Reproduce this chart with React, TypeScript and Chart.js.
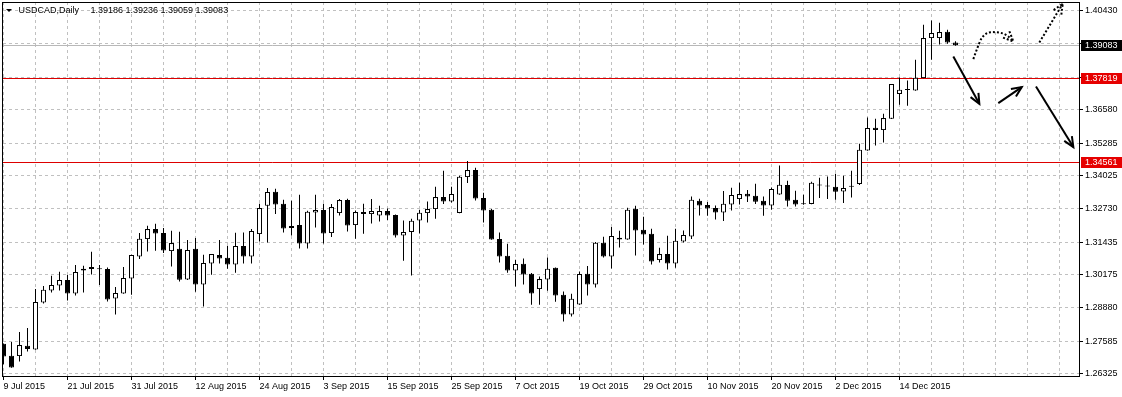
import React, { useEffect, useRef } from 'react';
import { Chart, registerables } from 'chart.js';

Chart.register(...registerables);

const FONT = "'Liberation Sans', Arial, sans-serif";

// ---- data -----------------------------------------------------------------
const symbolTitle = 'USDCAD,Daily';
const lastQuote = '1.39186 1.39236 1.39059 1.39083';

const dateLabels = [
  '9 Jul 2015', '21 Jul 2015', '31 Jul 2015', '12 Aug 2015', '24 Aug 2015',
  '3 Sep 2015', '15 Sep 2015', '25 Sep 2015', '7 Oct 2015', '19 Oct 2015',
  '29 Oct 2015', '10 Nov 2015', '20 Nov 2015', '2 Dec 2015', '14 Dec 2015',
];
const dateIdx = [0, 8, 16, 24, 32, 40, 48, 56, 64, 72, 80, 88, 96, 104, 112];

const priceTicks = [
  1.4043, 1.39135, 1.3784, 1.3658, 1.35285, 1.34025, 1.3273, 1.31435,
  1.30175, 1.2888, 1.27585, 1.26325,
];

const opens = [
  1.2749, 1.27024, 1.27012, 1.27412, 1.27268, 1.29093, 1.29559, 1.29753, 1.29963, 1.29443,
  1.30402, 1.3039, 1.3039, 1.3039, 1.29248, 1.29443, 1.30025, 1.30879, 1.31555, 1.31943,
  1.31788, 1.31089, 1.31178, 1.29986, 1.31178, 1.29792, 1.30607, 1.30933, 1.30829, 1.30568,
  1.31283, 1.30879, 1.31749, 1.32847, 1.33391, 1.32925, 1.31982, 1.32098, 1.31384, 1.32587,
  1.32681, 1.31788, 1.32564, 1.33069, 1.32098, 1.32603, 1.32525, 1.32471, 1.32642, 1.32486,
  1.31694, 1.31826, 1.32277, 1.32564, 1.32719, 1.33185, 1.33014, 1.32564, 1.33962, 1.34234,
  1.33146, 1.32692, 1.31555, 1.30906, 1.30336, 1.30596, 1.30207, 1.29613, 1.29986, 1.3044,
  1.29392, 1.28627, 1.29015, 1.30207, 1.29792, 1.31411, 1.30879, 1.31605, 1.31539, 1.32731,
  1.31916, 1.3176, 1.30739, 1.30972, 1.30607, 1.31461, 1.31656, 1.33042, 1.32875, 1.32758,
  1.32587, 1.32898, 1.33108, 1.33313, 1.33236, 1.33042, 1.32859, 1.33286, 1.33651, 1.3308,
  1.32925, 1.32914, 1.33651, 1.33597, 1.33585, 1.33403, 1.3359, 1.3369, 1.34994, 1.35876,
  1.35787, 1.36225, 1.37184, 1.37345, 1.37324, 1.37805, 1.39358, 1.39358, 1.39603, 1.39186,
];
const highs = [
  1.275, 1.27556, 1.27944, 1.28099, 1.29613, 1.2973, 1.3013, 1.30285, 1.30157, 1.30545,
  1.30518, 1.31062, 1.30545, 1.30452, 1.29691, 1.30468, 1.30945, 1.31788, 1.32071, 1.32149,
  1.31982, 1.31877, 1.31838, 1.31516, 1.31593, 1.30945, 1.3098, 1.31516, 1.31294, 1.31799,
  1.31811, 1.31943, 1.32925, 1.33535, 1.33507, 1.3308, 1.33042, 1.33275, 1.32653, 1.33275,
  1.32925, 1.32914, 1.33108, 1.33119, 1.32665, 1.32925, 1.33108, 1.32847, 1.32743, 1.3251,
  1.32277, 1.32343, 1.32692, 1.33014, 1.33585, 1.34206, 1.33585, 1.34012, 1.34583, 1.34323,
  1.33352, 1.32719, 1.31811, 1.31372, 1.30751, 1.30801, 1.30235, 1.30103, 1.3084, 1.30448,
  1.2952, 1.29431, 1.30297, 1.30506, 1.31438, 1.31644, 1.3202, 1.31877, 1.3277, 1.32847,
  1.3242, 1.31955, 1.31217, 1.31683, 1.31955, 1.31888, 1.33209, 1.33119, 1.32991, 1.32859,
  1.33418, 1.33546, 1.3374, 1.33457, 1.33702, 1.33209, 1.33558, 1.34412, 1.33818, 1.3343,
  1.33275, 1.33779, 1.33935, 1.33985, 1.3409, 1.34012, 1.34206, 1.35255, 1.36276, 1.36225,
  1.36419, 1.3758, 1.37829, 1.37712, 1.38516, 1.39875, 1.40042, 1.39952, 1.39681, 1.39236,
];
const lows = [
  1.26694, 1.2656, 1.26802, 1.27191, 1.2726, 1.29054, 1.29481, 1.29559, 1.29171, 1.29365,
  1.29481, 1.3018, 1.29769, 1.29132, 1.28627, 1.29435, 1.29392, 1.30778, 1.31073, 1.311,
  1.31011, 1.30491, 1.29908, 1.29963, 1.29509, 1.28938, 1.30169, 1.30607, 1.30402, 1.30246,
  1.30607, 1.30607, 1.31461, 1.31423, 1.32525, 1.31811, 1.31694, 1.3119, 1.3119, 1.32005,
  1.31384, 1.31632, 1.32471, 1.3185, 1.31566, 1.3176, 1.3216, 1.32238, 1.32292, 1.31617,
  1.30712, 1.30141, 1.31772, 1.32199, 1.32343, 1.32914, 1.32976, 1.3256, 1.33729, 1.33053,
  1.32199, 1.3153, 1.30646, 1.30246, 1.29714, 1.29792, 1.29004, 1.29004, 1.29547, 1.2912,
  1.28355, 1.2855, 1.29005, 1.29365, 1.29675, 1.3084, 1.30413, 1.31228, 1.3153, 1.30918,
  1.31345, 1.30568, 1.30646, 1.30374, 1.3044, 1.31423, 1.31555, 1.32471, 1.32459, 1.32316,
  1.32253, 1.32665, 1.32898, 1.32991, 1.32914, 1.32459, 1.32692, 1.3328, 1.3282, 1.3282,
  1.32886, 1.32905, 1.33146, 1.33108, 1.3308, 1.32952, 1.3317, 1.33651, 1.34985, 1.35189,
  1.35305, 1.36215, 1.36769, 1.3673, 1.37312, 1.378, 1.38516, 1.3911, 1.39137, 1.39059,
];
const closes = [
  1.26997, 1.26569, 1.27439, 1.27284, 1.29109, 1.29586, 1.29769, 1.29963, 1.29443, 1.30273,
  1.30336, 1.30468, 1.30382, 1.2921, 1.29458, 1.3004, 1.30933, 1.31566, 1.31943, 1.31772,
  1.31112, 1.31399, 1.29974, 1.31128, 1.29792, 1.30623, 1.30972, 1.30801, 1.30568, 1.31283,
  1.30879, 1.31865, 1.32758, 1.33379, 1.32898, 1.31966, 1.32059, 1.31384, 1.32614, 1.32681,
  1.31772, 1.32797, 1.33069, 1.32083, 1.32603, 1.32525, 1.32642, 1.32642, 1.32471, 1.31694,
  1.31826, 1.32265, 1.32576, 1.32719, 1.33185, 1.33014, 1.33302, 1.33973, 1.34234, 1.33131,
  1.32665, 1.31539, 1.30879, 1.30336, 1.30584, 1.3018, 1.29443, 1.30002, 1.30402, 1.29365,
  1.28627, 1.29237, 1.30196, 1.29792, 1.31411, 1.30879, 1.31671, 1.31539, 1.32692, 1.31888,
  1.31733, 1.30685, 1.30972, 1.30607, 1.31489, 1.3171, 1.3308, 1.32859, 1.32743, 1.32587,
  1.32925, 1.33263, 1.33302, 1.33209, 1.33003, 1.32859, 1.33496, 1.33663, 1.33042, 1.32898,
  1.32906, 1.3374, 1.33636, 1.33605, 1.33391, 1.33535, 1.336, 1.35022, 1.35864, 1.35787,
  1.36252, 1.37573, 1.37351, 1.3734, 1.37817, 1.39358, 1.39553, 1.39591, 1.39188, 1.39083,
];

// horizontal levels drawn on the chart
const levelPrices = [1.39083, 1.37819, 1.34561];
const levelLineColors = ['#b8b8b8', '#dd0000', '#dd0000'];
const levelBoxColors = ['#000000', '#e60000', '#e60000'];

// hand-drawn arrows (bar index, price)
const arrowDown1X = [118.73, 121.98];
const arrowDown1Y = [1.38644, 1.36808];
const arrowUp2X = [124.35, 127.28];
const arrowUp2Y = [1.36835, 1.37456];
const arrowDown3X = [129.06, 133.73];
const arrowDown3Y = [1.37479, 1.35127];
const dottedCurveX = [121.23, 121.65, 122.28, 123.53, 124.78, 125.6, 126.23];
const dottedCurveY = [1.38543, 1.38904, 1.39358, 1.39591, 1.39553, 1.39421, 1.39226];
const dottedUpX = [129.48, 132.4];
const dottedUpY = [1.39188, 1.4069];

// ---- layout constants -------------------------------------------------------
const X_MIN = -0.0625;
const X_MAX = 134.5625;
const Y_MIN = 1.26201;
const Y_MAX = 1.4076;

function pts(xs: number[], ys: number[]) {
  return xs.map((x, i) => ({ x, y: ys[i] }));
}

function drawHead(ctx: CanvasRenderingContext2D, x1: number, y1: number, x2: number, y2: number) {
  const a = Math.atan2(y2 - y1, x2 - x1);
  const len = 11;
  const ang = 0.42;
  ctx.beginPath();
  ctx.moveTo(x2 - len * Math.cos(a - ang), y2 - len * Math.sin(a - ang));
  ctx.lineTo(x2, y2);
  ctx.lineTo(x2 - len * Math.cos(a + ang), y2 - len * Math.sin(a + ang));
  ctx.stroke();
}

const mtPlugin = {
  id: 'mtDecor',
  beforeDatasetsDraw(chart: any) {
    const { ctx, chartArea: a, scales } = chart;
    const y = scales.y;
    ctx.save();
    ctx.lineWidth = 1;
    ctx.setLineDash([]);
    levelPrices.forEach((p, i) => {
      const py = Math.round(y.getPixelForValue(p)) + 0.5;
      ctx.strokeStyle = levelLineColors[i];
      ctx.beginPath();
      ctx.moveTo(a.left, py);
      ctx.lineTo(a.right, py);
      ctx.stroke();
    });
    ctx.restore();
  },
  afterDatasetsDraw(chart: any) {
    const { ctx } = chart;
    ctx.save();
    chart.data.datasets.forEach((ds: any, di: number) => {
      if (!ds.arrowHead) return;
      const data = chart.getDatasetMeta(di).data;
      if (data.length < 2) return;
      const p1 = data[data.length - 2];
      const p2 = data[data.length - 1];
      ctx.strokeStyle = '#000';
      ctx.lineWidth = 2;
      ctx.lineCap = 'butt';
      ctx.setLineDash(ds.borderDash || []);
      drawHead(ctx, p1.x, p1.y, p2.x, p2.y);
    });
    ctx.restore();
  },
  afterDraw(chart: any) {
    const { ctx, chartArea: a, scales } = chart;
    const y = scales.y;
    ctx.save();
    // frame
    ctx.setLineDash([]);
    ctx.strokeStyle = '#000';
    ctx.lineWidth = 1;
    ctx.strokeRect(a.left - 0.5, a.top + 0.5, a.right - a.left, a.bottom - a.top - 1);
    // title
    ctx.fillStyle = '#000';
    ctx.beginPath();
    ctx.moveTo(6, 9);
    ctx.lineTo(12, 9);
    ctx.lineTo(9, 12);
    ctx.closePath();
    ctx.fill();
    ctx.font = `9px ${FONT}`;
    ctx.textBaseline = 'middle';
    ctx.textAlign = 'left';
    ctx.fillText(symbolTitle, 18.5, 10.5);
    ctx.fillText(lastQuote, 90.5, 10.5);
    // price boxes
    levelPrices.forEach((p, i) => {
      const py = Math.round(y.getPixelForValue(p));
      ctx.fillStyle = levelBoxColors[i];
      ctx.fillRect(a.right + 1, py - 5, chart.width - a.right - 1, 11);
      ctx.fillStyle = '#fff';
      ctx.fillText(p.toFixed(5), a.right + 5, py + 0.5);
    });
    ctx.restore();
  },
};

export default function App() {
  const ref = useRef<HTMLCanvasElement>(null);

  useEffect(() => {
    document.body.style.margin = '0';
    const canvas = ref.current;
    if (!canvas) return;

    const bodyData = opens.map((o, i) => ({ x: i, y: [o, closes[i]] }));
    const wickData = lows.map((l, i) => ({ x: i, y: [l, highs[i]] }));
    const bodyColors = opens.map((o, i) => (closes[i] >= o ? '#ffffff' : '#000000'));

    const gridIdx: number[] = [];
    for (let v = 0; v <= 132; v += 4) gridIdx.push(v);

    const arrows = [
      { xs: arrowDown1X, ys: arrowDown1Y, dotted: false, curve: false },
      { xs: arrowUp2X, ys: arrowUp2Y, dotted: false, curve: false },
      { xs: arrowDown3X, ys: arrowDown3Y, dotted: false, curve: false },
      { xs: dottedCurveX, ys: dottedCurveY, dotted: true, curve: true },
      { xs: dottedUpX, ys: dottedUpY, dotted: true, curve: false },
    ];

    const chart = new Chart(canvas, {
      type: 'bar',
      data: {
        datasets: [
          {
            type: 'bar',
            data: wickData as any,
            backgroundColor: '#000000',
            borderWidth: 0,
            barThickness: 1,
            grouped: false,
            inflateAmount: 0,
            order: 3,
          } as any,
          {
            type: 'bar',
            data: bodyData as any,
            backgroundColor: bodyColors,
            borderColor: '#000000',
            borderWidth: 1,
            borderSkipped: false,
            barThickness: 5,
            grouped: false,
            minBarLength: 1,
            inflateAmount: 0,
            order: 2,
          } as any,
          ...arrows.map(
            (ar) =>
              ({
                type: 'line',
                data: pts(ar.xs, ar.ys),
                borderColor: '#000000',
                borderWidth: 2,
                borderDash: ar.dotted ? [2, 2] : [],
                pointRadius: 0,
                fill: false,
                tension: ar.curve ? 0.4 : 0,
                cubicInterpolationMode: ar.curve ? 'monotone' : 'default',
                arrowHead: true,
                order: 1,
              }) as any,
          ),
        ],
      },
      options: {
        responsive: false,
        animation: false,
        events: [],
        layout: { padding: { left: 3, top: 2, right: 0, bottom: 0 } },
        plugins: { legend: { display: false }, tooltip: { enabled: false }, title: { display: false } },
        scales: {
          x: {
            type: 'linear',
            min: X_MIN,
            max: X_MAX,
            offset: false,
            afterBuildTicks: (s: any) => {
              s.ticks = gridIdx.map((v) => ({ value: v }));
            },
            afterFit: (s: any) => {
              s.height = 20;
              s.paddingLeft = 0;
              s.paddingRight = 0;
            },
            grid: {
              offset: false,
              color: '#c0c0c0',
              lineWidth: 1,
              tickLength: 3,
              tickBorderDash: [],
              tickColor: (c: any) =>
                c.tick && dateIdx.indexOf(c.tick.value) >= 0 ? '#000000' : 'rgba(0,0,0,0)',
            },
            border: { display: false, dash: [3, 3] },
            ticks: {
              align: 'start',
              maxRotation: 0,
              minRotation: 0,
              autoSkip: false,
              padding: 1,
              color: '#000000',
              font: { family: FONT, size: 9 },
              callback: (v: any) => {
                const k = dateIdx.indexOf(Number(v));
                return k >= 0 ? dateLabels[k] : '';
              },
            },
          } as any,
          y: {
            type: 'linear',
            position: 'right',
            min: Y_MIN,
            max: Y_MAX,
            beginAtZero: false,
            afterBuildTicks: (s: any) => {
              s.ticks = priceTicks.map((v) => ({ value: v }));
            },
            afterFit: (s: any) => {
              s.width = 42;
              s.paddingTop = 0;
              s.paddingBottom = 0;
            },
            grid: {
              color: '#c0c0c0',
              lineWidth: 1,
              tickLength: 3,
              tickColor: '#000000',
              tickBorderDash: [],
            },
            border: { display: false, dash: [3, 3] },
            ticks: {
              autoSkip: false,
              padding: 2,
              color: '#000000',
              font: { family: FONT, size: 9 },
              callback: (v: any) => Number(v).toFixed(5),
            },
          } as any,
        },
      },
      plugins: [mtPlugin as any],
    });

    return () => chart.destroy();
  }, []);

  return (
    <div style={{ width: 1122, height: 397, background: '#ffffff' }}>
      <canvas ref={ref} width={1122} height={397} style={{ display: 'block' }} />
    </div>
  );
}
